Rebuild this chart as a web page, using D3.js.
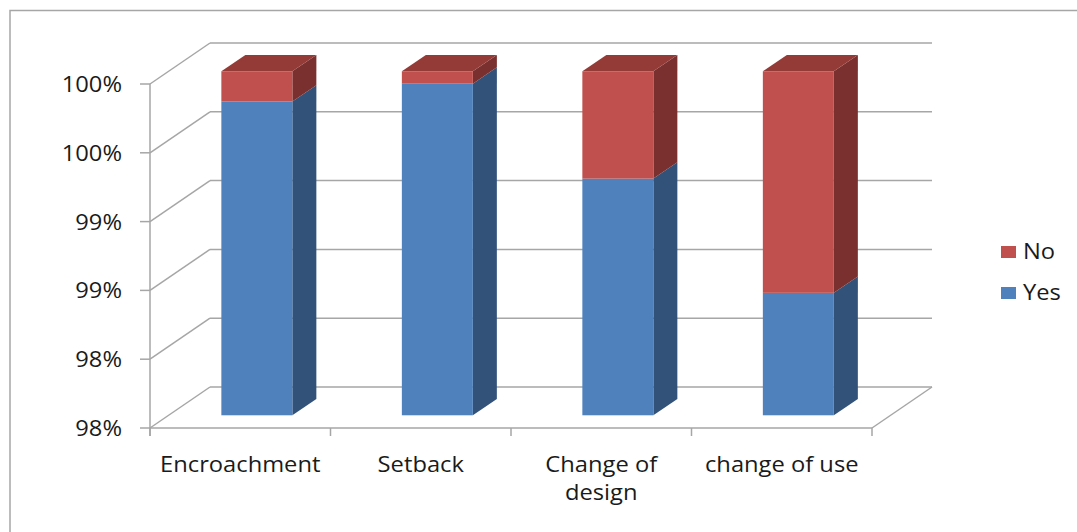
<!DOCTYPE html>
<html><head><meta charset="utf-8">
<script src="https://cdn.jsdelivr.net/npm/d3@7/dist/d3.min.js"></script>
<style>html,body{margin:0;padding:0;background:#fff;}svg{display:block;}</style>
</head><body>
<svg id="chart" width="1077" height="532"></svg>
<script>
const categories = ["Encroachment", "Setback", "Change of design", "change of use"];
const categoryLines = [["Encroachment"], ["Setback"], ["Change of", "design"], ["change of use"]];
const yesValues = [99.78, 99.91, 99.22, 98.39];
const noValues = [0.22, 0.09, 0.78, 1.61];
const seriesNames = ["Yes", "No"];
const yTicks = [97.5, 98, 98.5, 99, 99.5, 100];

const W = 1077, H = 532;
const svg = d3.select("#chart");
const FONT = "'Open Sans', 'Liberation Sans', sans-serif";
const SX = 1.13;
const gridColor = "#a6a6a6";

// outer border
svg.append("path").attr("d", "M10,532 L10,10.5 L1077,10.5")
  .attr("fill", "none").attr("stroke", gridColor).attr("stroke-width", 1.5);

const x = d3.scaleBand().domain(categories).range([150, 872]).paddingInner(0).paddingOuter(0);
const y = d3.scaleLinear().domain([97.5, 100]).range([428, 84]);
const DX = 60, DY = -41;              // full depth offset of the 3D box
const b0 = 0.31, b1 = 0.71;           // bar depth start / end (fraction of box depth)
const barFrac = 71 / 180.5;

const colors = {
  Yes: { front: "#4f81bd", side: "#32527a", top: "#3f6797" },
  No:  { front: "#c0504d", side: "#7a302e", top: "#943b38" }
};

// back wall gridlines
const grid = svg.append("g");
yTicks.forEach(t => {
  grid.append("line").attr("x1", 150 + DX).attr("x2", 872 + DX)
    .attr("y1", y(t) + DY).attr("y2", y(t) + DY)
    .attr("stroke", gridColor).attr("stroke-width", 1.5);
  grid.append("line").attr("x1", 150).attr("y1", y(t))
    .attr("x2", 150 + DX).attr("y2", y(t) + DY)
    .attr("stroke", gridColor).attr("stroke-width", 1.5);
});
// floor right edge and front edge
grid.append("line").attr("x1", 872).attr("y1", y(97.5)).attr("x2", 872 + DX).attr("y2", y(97.5) + DY)
  .attr("stroke", gridColor).attr("stroke-width", 1.5);
grid.append("line").attr("x1", 150).attr("y1", y(97.5)).attr("x2", 872).attr("y2", y(97.5))
  .attr("stroke", gridColor).attr("stroke-width", 1.5);
// vertical axis
grid.append("line").attr("x1", 150).attr("y1", y(100)).attr("x2", 150).attr("y2", y(97.5) + 8)
  .attr("stroke", gridColor).attr("stroke-width", 1.5);
yTicks.forEach(t => {
  grid.append("line").attr("x1", 140).attr("x2", 150).attr("y1", y(t)).attr("y2", y(t))
    .attr("stroke", gridColor).attr("stroke-width", 1.5);
});
// category ticks
[150].concat(categories.map(c => x(c) + x.bandwidth())).forEach(px => {
  grid.append("line").attr("x1", px).attr("x2", px).attr("y1", y(97.5)).attr("y2", y(97.5) + 8)
    .attr("stroke", gridColor).attr("stroke-width", 1.5);
});

// y labels
const fmt = d3.format(".0%");
yTicks.forEach(t => {
  svg.append("text")
    .attr("transform", `translate(122,${y(t)}) scale(${SX},1)`)
    .attr("text-anchor", "end").attr("dominant-baseline", "central")
    .attr("font-family", FONT).attr("font-size", 21).attr("fill", "#1a1a1a")
    .text(fmt(Math.round(t) / 100));
});

// bars
const bars = svg.append("g");
categories.forEach((c, i) => {
  const bw = x.bandwidth() * barFrac;
  const xl = x(c) + x.bandwidth() / 2 - bw / 2 - 2 + DX * b0;
  const xr = xl + bw;
  const oy = DY * b0;
  const ddx = DX * (b1 - b0), ddy = DY * (b1 - b0);
  const segs = [
    { name: "Yes", lo: 97.5, hi: yesValues[i] },
    { name: "No", lo: yesValues[i], hi: yesValues[i] + noValues[i] }
  ];
  segs.forEach((s, k) => {
    const lo = Math.max(s.lo, 97.5), hi = Math.min(s.hi, 100);
    if (hi <= lo) return;
    const yt = y(hi) + oy, yb = y(lo) + oy;
    const col = colors[s.name];
    bars.append("path")
      .attr("d", `M${xr},${yt} L${xr + ddx},${yt + ddy} L${xr + ddx},${yb + ddy} L${xr},${yb} Z`)
      .attr("fill", col.side);
    bars.append("rect").attr("x", xl).attr("y", yt).attr("width", bw).attr("height", yb - yt)
      .attr("fill", col.front);
    if (k === segs.length - 1) {
      bars.append("path")
        .attr("d", `M${xl},${yt} L${xl + ddx},${yt + ddy} L${xr + ddx},${yt + ddy} L${xr},${yt} Z`)
        .attr("fill", col.top);
    }
  });
});

// category labels
categories.forEach((c, i) => {
  const cx = x(c) + x.bandwidth() / 2;
  categoryLines[i].forEach((ln, j) => {
    svg.append("text")
      .attr("transform", `translate(${cx},${472 + j * 28}) scale(${SX},1)`)
      .attr("text-anchor", "middle")
      .attr("font-family", FONT).attr("font-size", 21).attr("fill", "#1a1a1a")
      .text(ln);
  });
});

// legend
const legendItems = ["No", "Yes"];
legendItems.forEach((n, i) => {
  const ly = 252 + i * 41;
  svg.append("rect").attr("x", 1001).attr("y", ly - 6).attr("width", 15).attr("height", 12)
    .attr("fill", colors[n].front);
  svg.append("text")
    .attr("transform", `translate(1023,${ly + 7}) scale(${SX},1)`)
    .attr("font-family", FONT).attr("font-size", 21).attr("fill", "#1a1a1a")
    .text(n);
});
</script>
</body></html>
